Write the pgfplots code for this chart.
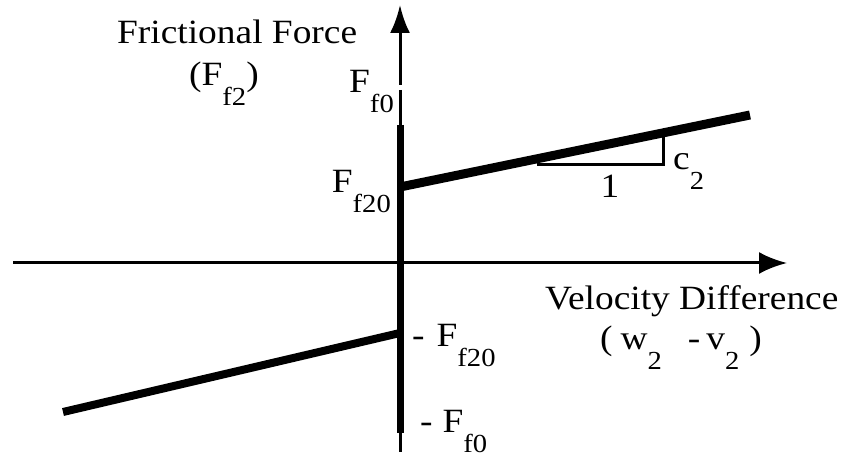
\documentclass[border=0pt]{standalone}
\usepackage{pgfplots}
\pgfplotsset{compat=1.18}
\usepackage{fontspec}
\setmainfont[FakeStretch=1.1]{Liberation Serif}
\usetikzlibrary{arrows.meta}

% text sizes: main labels and their lowered subscripts
\newcommand\lbl{\fontsize{34}{40}\selectfont}
\newcommand\lo[1]{\raisebox{-0.56em}{\fontsize{26}{30}\selectfont #1}}

\begin{document}
\begin{tikzpicture}
\begin{axis}[
  scale only axis, width=844pt, height=457pt,
  xmin=-400, xmax=444, ymin=-194, ymax=263,
  hide axis, clip=false,
  every axis plot/.append style={black, line cap=butt},
]
% horizontal axis with arrow
\addplot[line width=3pt, -{Latex[length=28pt,width=22pt]}] coordinates {(-387,0) (387,0)};
% vertical axis with arrow (upper part, small break below)
\addplot[line width=3pt, {Latex[length=28pt,width=20pt]}-] coordinates {(0,258) (0,178)};
\addplot[line width=3pt] coordinates {(0,173) (0,-189)};
% set-valued friction at zero velocity
\addplot[line width=7pt] coordinates {(0,138) (0,-170)};
% friction branches
\addplot[line width=9pt] coordinates {(0,76) (350,148)};
\addplot[line width=8pt] coordinates {(-337,-149) (0,-70)};
% slope triangle
\addplot[line width=3pt] coordinates {(137,98) (263,98) (263,126)};

% labels
\node[anchor=base west, inner sep=0pt] at (axis cs:-283,219) {\lbl Frictional Force};
\node[anchor=base west, inner sep=0pt] at (axis cs:-211,177) {\lbl (F\lo{f2})};
\node[anchor=base east, inner sep=0pt] at (axis cs:-6,170) {\lbl F\lo{f0}};
\node[anchor=base east, inner sep=0pt] at (axis cs:-9,70) {\lbl F\lo{f20}};
\node[anchor=base west, inner sep=0pt] at (axis cs:12,-84) {\lbl -\hspace{12pt}F\lo{f20}};
\node[anchor=base west, inner sep=0pt] at (axis cs:20,-170) {\lbl -\hspace{10pt}F\lo{f0}};
\node[anchor=base west, inner sep=0pt] at (axis cs:145,-47) {\lbl Velocity Difference};
\node[anchor=base west, inner sep=0pt] at (axis cs:200,-87) {\lbl (\hspace{8pt}w\lo{2}\hspace{26pt}-\hspace{6pt}v\lo{2}\hspace{10pt})};
\node[anchor=base, inner sep=0pt] at (axis cs:210,65) {\lbl 1};
\node[anchor=base west, inner sep=0pt] at (axis cs:273,93) {\lbl c\lo{2}};
\end{axis}
\pgfresetboundingbox
\useasboundingbox (current axis.south west) rectangle (current axis.north east);
\end{tikzpicture}
\end{document}
